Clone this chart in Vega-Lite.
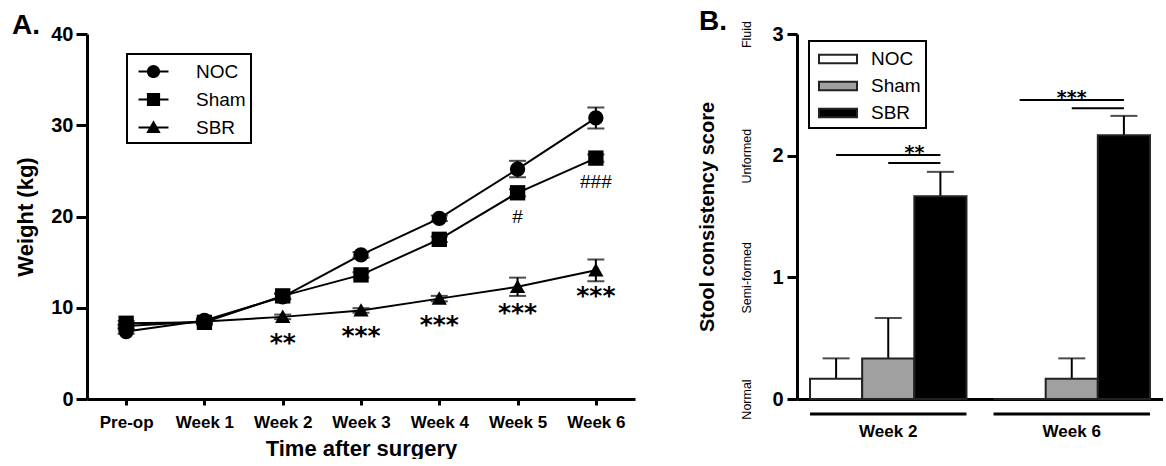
{
  "$schema": "https://vega.github.io/schema/vega-lite/v6.json",
  "background": "#ffffff",
  "padding": {"left": 12, "top": 8, "right": 0, "bottom": 0},
  "spacing": 62,
  "config": {
    "font": "Liberation Sans",
    "view": {"stroke": null},
    "axis": {
      "grid": false,
      "domainColor": "#000000",
      "domainWidth": 3,
      "tickColor": "#000000",
      "tickWidth": 3,
      "labelColor": "#000000",
      "titleColor": "#000000",
      "labelFont": "Liberation Sans",
      "titleFont": "Liberation Sans",
      "labelFontWeight": "bold",
      "titleFontWeight": "bold",
      "labelFlush": false
    },
    "legend": {
      "orient": "none",
      "strokeColor": "#000000",
      "strokeWidth": 2,
      "fillColor": "#ffffff",
      "padding": 5,
      "labelFont": "Liberation Sans",
      "labelFontSize": 19,
      "labelColor": "#000000"
    },
    "title": {
      "font": "Liberation Sans",
      "fontSize": 28,
      "fontWeight": "bold",
      "color": "#000000",
      "anchor": "start",
      "frame": "group",
      "offset": 0,
      "dy": 20
    }
  },
  "datasets": {
    "weights": [
      {"time": "Pre-op", "group": "NOC", "weight": 7.4, "sem": 0.25, "sig": ""},
      {"time": "Week 1", "group": "NOC", "weight": 8.6, "sem": 0.25, "sig": ""},
      {"time": "Week 2", "group": "NOC", "weight": 11.2, "sem": 0.3, "sig": ""},
      {"time": "Week 3", "group": "NOC", "weight": 15.8, "sem": 0.3, "sig": ""},
      {"time": "Week 4", "group": "NOC", "weight": 19.8, "sem": 0.3, "sig": ""},
      {"time": "Week 5", "group": "NOC", "weight": 25.2, "sem": 0.9, "sig": ""},
      {"time": "Week 6", "group": "NOC", "weight": 30.8, "sem": 1.15, "sig": ""},
      {"time": "Pre-op", "group": "Sham", "weight": 8.3, "sem": 0.25, "sig": ""},
      {"time": "Week 1", "group": "Sham", "weight": 8.4, "sem": 0.25, "sig": ""},
      {"time": "Week 2", "group": "Sham", "weight": 11.3, "sem": 0.3, "sig": ""},
      {"time": "Week 3", "group": "Sham", "weight": 13.6, "sem": 0.3, "sig": ""},
      {"time": "Week 4", "group": "Sham", "weight": 17.5, "sem": 0.3, "sig": ""},
      {"time": "Week 5", "group": "Sham", "weight": 22.6, "sem": 0.4, "sig": "#"},
      {"time": "Week 6", "group": "Sham", "weight": 26.4, "sem": 0.4, "sig": "###"},
      {"time": "Pre-op", "group": "SBR", "weight": 8.0, "sem": 0.2, "sig": ""},
      {"time": "Week 1", "group": "SBR", "weight": 8.5, "sem": 0.2, "sig": ""},
      {"time": "Week 2", "group": "SBR", "weight": 9.0, "sem": 0.25, "sig": "**"},
      {"time": "Week 3", "group": "SBR", "weight": 9.7, "sem": 0.25, "sig": "***"},
      {"time": "Week 4", "group": "SBR", "weight": 11.0, "sem": 0.3, "sig": "***"},
      {"time": "Week 5", "group": "SBR", "weight": 12.3, "sem": 1.0, "sig": "***"},
      {"time": "Week 6", "group": "SBR", "weight": 14.1, "sem": 1.2, "sig": "***"}
    ],
    "stool": [
      {"week": "Week 2", "bar": "NOC", "score": 0.167, "sem": 0.167},
      {"week": "Week 2", "bar": "Sham", "score": 0.333, "sem": 0.333},
      {"week": "Week 2", "bar": "SBR", "score": 1.667, "sem": 0.2},
      {"week": "Week 6", "bar": "NOC", "score": 0, "sem": 0},
      {"week": "Week 6", "bar": "Sham", "score": 0.167, "sem": 0.167},
      {"week": "Week 6", "bar": "SBR", "score": 2.167, "sem": 0.16}
    ],
    "brackets": [
      {"week": "Week 2", "bar": "NOC", "level": 2.005, "pair": "w2-noc"},
      {"week": "Week 2", "bar": "SBR", "level": 2.005, "pair": "w2-noc"},
      {"week": "Week 2", "bar": "Sham", "level": 1.94, "pair": "w2-sham"},
      {"week": "Week 2", "bar": "SBR", "level": 1.94, "pair": "w2-sham"},
      {"week": "Week 6", "bar": "NOC", "level": 2.457, "pair": "w6-noc"},
      {"week": "Week 6", "bar": "SBR", "level": 2.457, "pair": "w6-noc"},
      {"week": "Week 6", "bar": "Sham", "level": 2.39, "pair": "w6-sham"},
      {"week": "Week 6", "bar": "SBR", "level": 2.39, "pair": "w6-sham"}
    ],
    "stars": [
      {"week": "Week 2", "bar": "SBR", "level": 2.005, "label": "**"},
      {"week": "Week 6", "bar": "Sham", "level": 2.457, "label": "***"}
    ]
  },
  "resolve": {
    "scale": {"shape": "independent", "fill": "independent"},
    "legend": {"shape": "independent", "fill": "independent"}
  },
  "hconcat": [
    {
      "width": 548,
      "height": 365,
      "title": {"text": "A.", "dx": -75},
      "data": {"name": "weights"},
      "encoding": {
        "x": {
          "field": "time",
          "type": "ordinal",
          "sort": ["Pre-op", "Week 1", "Week 2", "Week 3", "Week 4", "Week 5", "Week 6"],
          "scale": {"type": "point", "padding": 0.5},
          "axis": {
            "title": "Time after surgery",
            "titleFontSize": 22,
            "labelFontSize": 17,
            "labelAngle": 0,
            "tickSize": 6,
            "labelPadding": 9,
            "titlePadding": 8
          }
        },
        "y": {
          "field": "weight",
          "type": "quantitative",
          "scale": {"domain": [0, 40], "nice": false},
          "axis": {
            "title": "Weight (kg)",
            "titleFontSize": 22,
            "labelFontSize": 20,
            "values": [0, 10, 20, 30, 40],
            "tickSize": 11,
            "labelPadding": 3,
            "titlePadding": 13
          }
        }
      },
      "layer": [
        {
          "mark": {"type": "errorbar", "color": "#000000", "thickness": 2, "ticks": {"size": 17, "thickness": 2, "color": "#000000"}},
          "encoding": {"yError": {"field": "sem"}, "detail": {"field": "group"}}
        },
        {
          "mark": {"type": "line", "color": "#000000", "strokeWidth": 2},
          "encoding": {"detail": {"field": "group"}}
        },
        {
          "mark": {"type": "point", "filled": true, "color": "#000000", "opacity": 1, "size": 235},
          "encoding": {
            "shape": {
              "field": "group",
              "type": "nominal",
              "scale": {"domain": ["NOC", "Sham", "SBR"], "range": ["circle", "square", "M0,-0.95L1,0.8H-1Z"]},
              "legend": null
            }
          }
        },
        {
          "mark": {"type": "point", "filled": true, "color": "#000000", "opacity": 0},
          "encoding": {
            "shape": {
              "field": "group",
              "type": "nominal",
              "scale": {
                "domain": ["NOC", "Sham", "SBR"],
                "range": [
                  "M-0.5,-0.09H2V0.09H-0.5ZM1.3,0A0.55,0.55,0,1,1,0.2,0A0.55,0.55,0,1,1,1.3,0Z",
                  "M-0.5,-0.09H2V0.09H-0.5ZM0.2,-0.55H1.3V0.55H0.2Z",
                  "M-0.5,-0.09H2V0.09H-0.5ZM0.75,-0.6L1.35,0.45H0.15Z"
                ]
              },
              "legend": {
                "title": null,
                "legendX": 40,
                "legendY": 20,
                "symbolSize": 576,
                "symbolFillColor": "#000000",
                "symbolStrokeColor": "#000000",
                "symbolStrokeWidth": 1,
                "symbolOpacity": 1,
                "labelOffset": 39,
                "rowPadding": 5
              }
            }
          }
        },
        {
          "transform": [{"filter": "datum.group === 'SBR' && datum.sig !== ''"}],
          "mark": {"type": "text", "font": "DejaVu Sans", "fontSize": 25, "fontWeight": "bold", "baseline": "alphabetic", "dy": 34, "color": "#000000"},
          "encoding": {"text": {"field": "sig"}}
        },
        {
          "transform": [{"filter": "datum.group === 'Sham' && datum.sig !== ''"}],
          "mark": {"type": "text", "font": "Liberation Sans", "fontSize": 19, "baseline": "alphabetic", "dy": 30, "color": "#000000"},
          "encoding": {"text": {"field": "sig"}}
        }
      ],
      "resolve": {"scale": {"shape": "independent"}}
    },
    {
      "width": 366,
      "height": 365,
      "title": {"text": "B.", "dx": -98},
      "encoding": {
        "x": {
          "field": "week",
          "type": "nominal",
          "scale": {"type": "band", "paddingInner": 0.1475, "paddingOuter": 0.071},
          "axis": {"title": null, "labelAngle": 0, "labelFontSize": 17, "ticks": false, "tickSize": 0, "labelPadding": 24}
        }
      },
      "layer": [
        {
          "data": {"name": "brackets"},
          "mark": {"type": "line", "color": "#000000", "strokeWidth": 2},
          "encoding": {
            "xOffset": {"field": "bar", "type": "nominal", "scale": {"domain": ["NOC", "Sham", "SBR"], "paddingInner": 0, "paddingOuter": 0}},
            "y": {
              "field": "level",
              "type": "quantitative",
              "scale": {"domain": [0, 3], "nice": false},
              "axis": {
                "orient": "left",
                "values": [0, 1, 2, 3],
                "labelExpr": "['Normal', 'Semi-formed', 'Unformed', 'Fluid'][datum.value]",
                "labelAngle": -90,
                "labelAlign": "center",
                "labelBaseline": "bottom",
                "labelFontWeight": "normal",
                "labelFontSize": 12.5,
                "labelPadding": 44,
                "ticks": false,
                "tickSize": 0,
                "domain": false,
                "title": "Stool consistency score",
                "titleFontSize": 20,
                "titlePadding": 23
              }
            },
            "detail": {"field": "pair"}
          }
        },
        {
          "data": {"name": "stool"},
          "transform": [{"filter": "datum.sem > 0"}],
          "mark": {"type": "errorbar", "color": "#000000", "thickness": 2, "ticks": {"size": 27, "thickness": 2, "color": "#000000"}},
          "encoding": {
            "xOffset": {"field": "bar", "type": "nominal", "scale": {"domain": ["NOC", "Sham", "SBR"], "paddingInner": 0, "paddingOuter": 0}},
            "y": {"field": "score", "type": "quantitative", "scale": {"domain": [0, 3], "nice": false}, "axis": null},
            "yError": {"field": "sem"}
          }
        },
        {
          "data": {"name": "stool"},
          "mark": {"type": "bar", "stroke": "#222222", "strokeWidth": 2},
          "encoding": {
            "xOffset": {"field": "bar", "type": "nominal", "scale": {"domain": ["NOC", "Sham", "SBR"], "paddingInner": 0, "paddingOuter": 0}},
            "y": {
              "field": "score",
              "type": "quantitative",
              "scale": {"domain": [0, 3], "nice": false},
              "axis": {
                "orient": "left",
                "title": null,
                "values": [0, 1, 2, 3],
                "labelFontSize": 20,
                "tickSize": 10,
                "labelPadding": 4
              }
            },
            "fill": {
              "field": "bar",
              "type": "nominal",
              "scale": {"domain": ["NOC", "Sham", "SBR"], "range": ["#ffffff", "#a0a0a0", "#000000"]},
              "legend": {
                "title": null,
                "legendX": 12,
                "legendY": 7,
                "symbolType": "M-0.667,-0.35H2.5V0.35H-0.667Z",
                "symbolSize": 576,
                "symbolStrokeColor": "#222222",
                "symbolStrokeWidth": 2,
                "symbolOpacity": 1,
                "labelOffset": 31,
                "rowPadding": 4
              }
            }
          }
        },
        {
          "data": {"name": "stool"},
          "transform": [{"filter": "datum.bar === 'SBR'"}],
          "mark": {"type": "bar", "color": "#000000"},
          "encoding": {
            "y": {"datum": -0.111, "type": "quantitative", "scale": {"domain": [0, 3], "nice": false}, "axis": null},
            "y2": {"datum": -0.135}
          }
        },
        {
          "data": {"name": "stars"},
          "transform": [{"filter": "datum.week === 'Week 2'"}],
          "mark": {"type": "text", "font": "DejaVu Sans", "fontSize": 19, "fontWeight": "bold", "baseline": "alphabetic", "align": "right", "dx": -16, "dy": 4, "color": "#000000"},
          "encoding": {
            "xOffset": {"field": "bar", "type": "nominal", "scale": {"domain": ["NOC", "Sham", "SBR"], "paddingInner": 0, "paddingOuter": 0}},
            "y": {"field": "level", "type": "quantitative", "scale": {"domain": [0, 3], "nice": false}, "axis": null},
            "text": {"field": "label"}
          }
        },
        {
          "data": {"name": "stars"},
          "transform": [{"filter": "datum.week === 'Week 6'"}],
          "mark": {"type": "text", "font": "DejaVu Sans", "fontSize": 19, "fontWeight": "bold", "baseline": "alphabetic", "align": "center", "dy": 4, "color": "#000000"},
          "encoding": {
            "xOffset": {"field": "bar", "type": "nominal", "scale": {"domain": ["NOC", "Sham", "SBR"], "paddingInner": 0, "paddingOuter": 0}},
            "y": {"field": "level", "type": "quantitative", "scale": {"domain": [0, 3], "nice": false}, "axis": null},
            "text": {"field": "label"}
          }
        }
      ],
      "resolve": {"axis": {"y": "independent"}}
    }
  ]
}
